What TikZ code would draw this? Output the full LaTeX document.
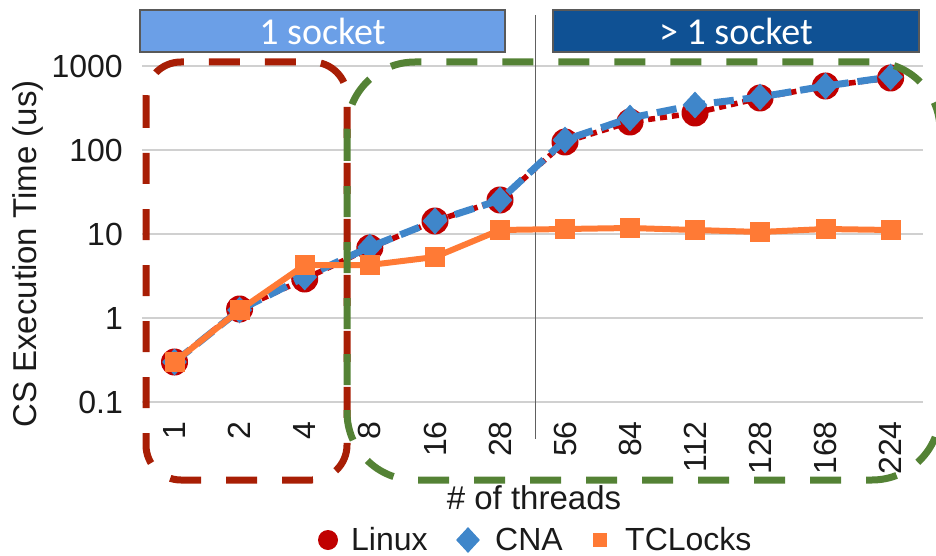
\documentclass[tikz,border=0pt]{standalone}
\usepackage{fontspec}
\setmainfont{Liberation Sans}
\newfontfamily\boxfont{Carlito}
\usetikzlibrary{shapes.geometric}

\definecolor{linuxred}{HTML}{C00000}
\definecolor{cnablue}{HTML}{3F86CA}
\definecolor{tcorange}{HTML}{FF7A35}
\definecolor{gridgray}{HTML}{D0D0D0}
\definecolor{sockA}{HTML}{6B9FE7}
\definecolor{sockB}{HTML}{0F5194}
\definecolor{zonered}{HTML}{A81E05}
\definecolor{zonegreen}{HTML}{548235}
\definecolor{labelgray}{HTML}{1A1A1A}

\tikzset{
  grid line/.style={draw=gridgray, line width=1.5pt},
  tick label/.style={text=labelgray, font=\fontsize{32}{36}\selectfont, inner sep=0pt},
  legend label/.style={tick label, text depth=0pt},
  axis title/.style={text=labelgray, font=\fontsize{33}{38}\selectfont, inner sep=0pt},
  sockbox/.style={draw=gray!70!black, line width=1.5pt, minimum height=42pt,
    text=white, font=\boxfont\fontsize{38}{40}\selectfont, inner sep=0pt},
  zonebox/.style={draw=#1, line width=7pt, dash pattern=on 31pt off 25pt},
  linuxline/.style={draw=linuxred, line width=5.5pt, dash pattern=on 7pt off 5pt},
  cnaline/.style={draw=cnablue, line width=7pt, dash pattern=on 20pt off 9pt},
  tcline/.style={draw=tcorange, line width=6pt, line join=round},
  linuxmark/.style={circle, fill=linuxred, minimum size=27pt, inner sep=0pt},
  cnamark/.style={diamond, fill=cnablue, minimum width=25pt, minimum height=27pt, inner sep=0pt},
  tcmark/.style={rectangle, fill=tcorange, minimum size=20pt, inner sep=0pt},
}

\begin{document}
\begin{tikzpicture}[x=1pt, y=-1pt]
\useasboundingbox (0,0) rectangle (936,556);

% horizontal grid lines and value labels (log scale, 84pt per decade)
\foreach \gy/\lab in {66/1000, 150/100, 234/10, 318/1, 402/0.1} {
  \draw[grid line] (142,\gy) -- (923,\gy);
  \node[tick label, anchor=east] (ylab\lab) at (123,\gy) {\lab};
}

% socket separator
\coordinate (sepTop) at (535.5,15);
\coordinate (sepBot) at (535.5,439);
\draw[draw=gray!75!black, line width=1.5pt] (sepTop) -- (sepBot);

% socket headers
\node[sockbox, fill=sockA, minimum width=365pt] (sock1) at (322.5,31) {1 socket};
\node[sockbox, fill=sockB, minimum width=366pt] (sockN) at (736,31) {> 1 socket};

% data points: index / x / Linux / CNA / TCLocks
\foreach \i/\x/\yl/\yc/\yt/\t in {
   1/174.5/362/362/362/1,
   2/239.6/309/310/310/2,
   3/304.7/279/277/265/4,
   4/369.8/248/247/265/8,
   5/435.0/221/221/257/16,
   6/500.0/200/200/230/28,
   7/565.0/142/140/229/56,
   8/630.0/122/118/228/84,
   9/695.0/113/105/230/112,
  10/760.0/98/97/232/128,
  11/825.5/86/86/229/168,
  12/890.6/78/77/230/224} {
  \coordinate (L\i) at (\x,\yl);
  \coordinate (C\i) at (\x,\yc);
  \coordinate (T\i) at (\x,\yt);
  \node[tick label, rotate=90, anchor=east] (xlab\i) at (\x,421) {\t};
}

% Linux
\draw[linuxline] (L1) \foreach \i in {2,...,12} { -- (L\i) };
\foreach \i in {1,...,12} \node[linuxmark] (Lm\i) at (L\i) {};
% CNA
\draw[cnaline] (C1) \foreach \i in {2,...,12} { -- (C\i) };
\foreach \i in {1,...,12} \node[cnamark] (Cm\i) at (C\i) {};
% TCLocks
\draw[tcline] (T1) \foreach \i in {2,...,12} { -- (T\i) };
\foreach \i in {1,...,12} \node[tcmark] (Tm\i) at (T\i) {};

% highlighted regions
\draw[zonebox=zonered, rounded corners=35pt] (146,62) rectangle (347,480);
\draw[zonebox=zonegreen, rounded corners=68pt] (347,62) rectangle (940,480);

% axis titles
\node[axis title, rotate=90] (ytitle) at (28,254) {CS Execution Time (us)};
\node[axis title, anchor=base] (xtitle) at (534,509) {\# of threads};

% legend
\node[circle, fill=linuxred, minimum size=20pt, inner sep=0pt] (legL) at (328,540) {};
\node[legend label, anchor=base west] (legLt) at (351,550) {Linux};
\node[diamond, fill=cnablue, minimum width=24pt, minimum height=26pt, inner sep=0pt] (legC) at (468,540) {};
\node[legend label, anchor=base west] (legCt) at (495,550) {CNA};
\node[rectangle, fill=tcorange, minimum size=14pt, inner sep=0pt] (legT) at (600,540) {};
\node[legend label, anchor=base west] (legTt) at (625,550) {TCLocks};
\end{tikzpicture}
\end{document}
